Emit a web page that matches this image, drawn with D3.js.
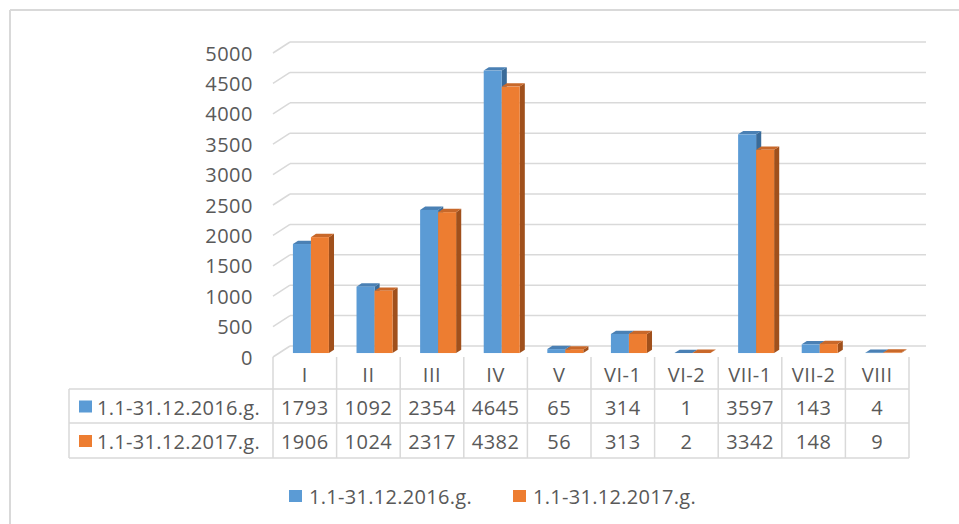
<!DOCTYPE html>
<html lang="en">
  <head>
    <meta charset="utf-8" />
    <script src="https://d3js.org/d3.v7.min.js"></script>
    <style>
      body { margin: 0; background: white; }
      text { font-family: "Open Sans", "Liberation Sans", sans-serif; fill: #595959; }
    </style>
    <title>Chart</title>
  </head>
  <body>
    <svg id="chart" width="959" height="524"></svg>

    <script>
      // data
      const categories = ["I", "II", "III", "IV", "V", "VI-1", "VI-2", "VII-1", "VII-2", "VIII"];
      const values2016 = [1793, 1092, 2354, 4645, 65, 314, 1, 3597, 143, 4];
      const values2017 = [1906, 1024, 2317, 4382, 56, 313, 2, 3342, 148, 9];
      const seriesNames = ["1.1-31.12.2016.g.", "1.1-31.12.2017.g."];
      const yTicks = [0, 500, 1000, 1500, 2000, 2500, 3000, 3500, 4000, 4500, 5000];

      const colors = [
        { front: "#5b9bd5", top: "#4a80b4", side: "#3a6b99" },
        { front: "#ed7d31", top: "#c8682a", side: "#a0501c" }
      ];

      const svg = d3.select("svg#chart");
      const grid = "#d9d9d9";

      // chart frame (only top and left show)
      svg.append("line").attr("x1", 10).attr("y1", 10).attr("x2", 959).attr("y2", 10)
        .attr("stroke", grid).attr("stroke-width", 2);
      svg.append("line").attr("x1", 10).attr("y1", 10).attr("x2", 10).attr("y2", 524)
        .attr("stroke", grid).attr("stroke-width", 2);

      // depth offset of the 3d box
      const depthX = 17, depthY = 11;

      const x = d3.scaleBand().domain(categories).range([273, 909]).padding(0);
      const y = d3.scaleLinear().domain([0, 5000]).range([357, 53]);

      // gridlines: slanted side + back wall
      const gl = svg.append("g").attr("class", "gridlines");
      yTicks.forEach(t => {
        gl.append("line")
          .attr("x1", x.range()[0]).attr("y1", y(t))
          .attr("x2", x.range()[0] + depthX).attr("y2", y(t) - depthY)
          .attr("stroke", grid).attr("stroke-width", 1.5);
        gl.append("line")
          .attr("x1", x.range()[0] + depthX).attr("y1", y(t) - depthY)
          .attr("x2", x.range()[1] + depthX).attr("y2", y(t) - depthY)
          .attr("stroke", grid).attr("stroke-width", 1.5);
      });

      // y axis labels
      svg.append("g")
        .selectAll("text")
        .data(yTicks)
        .join("text")
        .attr("x", 253)
        .attr("y", d => y(d))
        .attr("text-anchor", "end")
        .attr("dominant-baseline", "central")
        .attr("font-size", "20px")
        .attr("letter-spacing", "0.5px")
        .text(d => d);

      // bars
      const zFront = 0.36, zBack = 0.66;
      const barW = x.bandwidth() * 0.283;
      const bars = svg.append("g").attr("class", "bars");
      const series = [values2016, values2017];

      categories.forEach((c, i) => {
        series.forEach((vals, s) => {
          const v = vals[i];
          const x0 = x(c) + x.bandwidth() / 2 - barW + s * barW + depthX * zFront;
          const x1 = x0 + barW;
          const yb = y(0) - depthY * zFront;
          const yt = y(v) - depthY * zFront;
          const dx = depthX * (zBack - zFront);
          const dy = depthY * (zBack - zFront);
          const col = colors[s];

          bars.append("polygon")
            .attr("points", [[x1, yb], [x1, yt], [x1 + dx, yt - dy], [x1 + dx, yb - dy]].join(" "))
            .attr("fill", col.side);
          bars.append("polygon")
            .attr("points", [[x0, yt], [x0 + dx, yt - dy], [x1 + dx, yt - dy], [x1, yt]].join(" "))
            .attr("fill", col.top);
          bars.append("rect")
            .attr("x", x0)
            .attr("y", yt)
            .attr("width", barW)
            .attr("height", yb - yt)
            .attr("fill", col.front);
        });
      });

      // data table
      const tbl = svg.append("g").attr("class", "table");
      const rowY = [357, 389, 423, 458];
      const tableLeft = 69;

      // horizontal lines
      [rowY[1], rowY[2], rowY[3]].forEach(ry => {
        tbl.append("line")
          .attr("x1", tableLeft).attr("x2", x.range()[1])
          .attr("y1", ry).attr("y2", ry)
          .attr("stroke", grid).attr("stroke-width", 1.5);
      });
      // vertical lines
      const colEdges = categories.map(c => x(c)).concat([x.range()[1]]);
      colEdges.forEach(cx => {
        tbl.append("line")
          .attr("x1", cx).attr("x2", cx)
          .attr("y1", rowY[0]).attr("y2", rowY[3])
          .attr("stroke", grid).attr("stroke-width", 1.5);
      });
      tbl.append("line")
        .attr("x1", tableLeft).attr("x2", tableLeft)
        .attr("y1", rowY[1]).attr("y2", rowY[3])
        .attr("stroke", grid).attr("stroke-width", 1.5);

      // header
      tbl.selectAll("text.cat")
        .data(categories)
        .join("text")
        .attr("class", "cat")
        .attr("x", d => x(d) + x.bandwidth() / 2)
        .attr("y", (rowY[0] + rowY[1]) / 2 + 1)
        .attr("text-anchor", "middle")
        .attr("dominant-baseline", "central")
        .attr("font-size", "20px")
        .attr("letter-spacing", "0.5px")
        .text(d => d);

      // value rows
      series.forEach((vals, s) => {
        const cy = (rowY[s + 1] + rowY[s + 2]) / 2 + 1;
        tbl.selectAll("text.val" + s)
          .data(vals)
          .join("text")
          .attr("class", "val" + s)
          .attr("x", (d, i) => x(categories[i]) + x.bandwidth() / 2)
          .attr("y", cy)
          .attr("text-anchor", "middle")
          .attr("dominant-baseline", "central")
          .attr("font-size", "20px")
          .attr("letter-spacing", "0.5px")
          .text(d => d);

        tbl.append("rect")
          .attr("x", 79)
          .attr("y", cy - 6.5)
          .attr("width", 13)
          .attr("height", 12)
          .attr("fill", colors[s].front);
        tbl.append("text")
          .attr("x", 97)
          .attr("y", cy)
          .attr("dominant-baseline", "central")
          .attr("font-size", "20px")
          .attr("letter-spacing", "0.3px")
          .text(seriesNames[s]);
      });

      // legend
      const legendX = [289, 513];
      const legend = svg.append("g").attr("class", "legend");
      seriesNames.forEach((name, s) => {
        legend.append("rect")
          .attr("x", legendX[s])
          .attr("y", 490)
          .attr("width", 13)
          .attr("height", 12)
          .attr("fill", colors[s].front);
        legend.append("text")
          .attr("x", legendX[s] + 20)
          .attr("y", 496)
          .attr("dominant-baseline", "central")
          .attr("font-size", "20px")
          .attr("letter-spacing", "0.3px")
          .text(name);
      });
    </script>
  </body>
</html>
